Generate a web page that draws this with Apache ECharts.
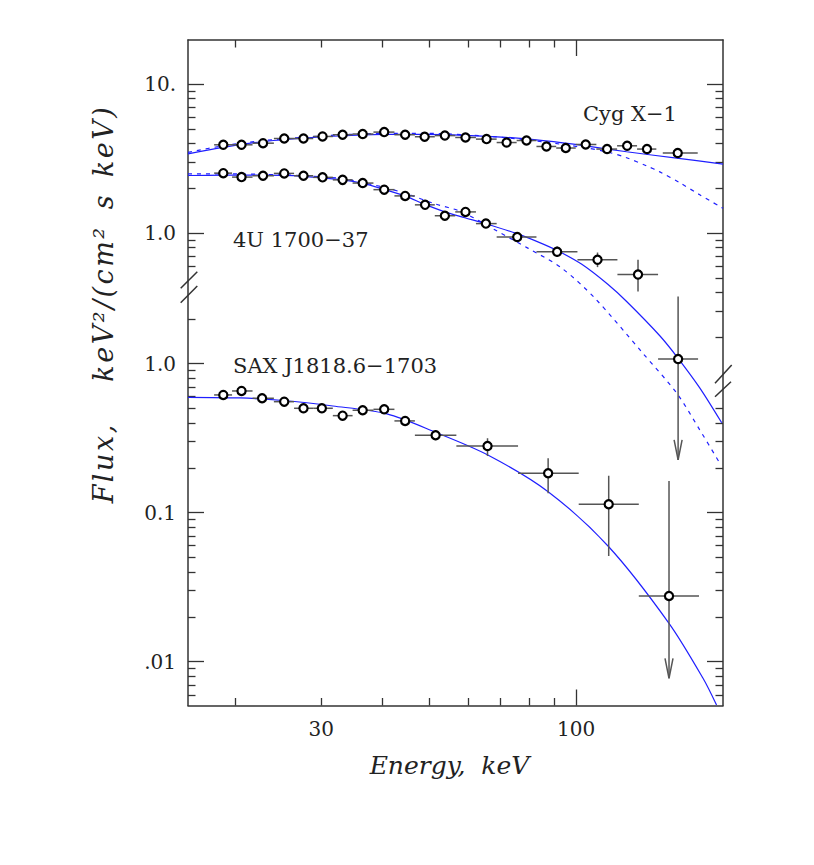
<!DOCTYPE html>
<html><head><meta charset="utf-8">
<script src="https://cdn.jsdelivr.net/npm/echarts@6/dist/echarts.min.js"></script>
<style>html,body{margin:0;padding:0;background:#fff}#c{width:814px;height:865px}</style>
</head><body><div id="c"></div>
<script>
// ================= DATA =================
// Cyg X-1 (upper panel scale)
const cygE   = [18.9,20.6,22.8,25.2,27.6,30.2,33.2,36.5,40.4,44.6,48.9,53.8,59.3,65.5,72.0,79.1,86.9,95.2,104.6,115.7,127.2,139.7,161.5];
const cygF   = [3.92,3.92,4.02,4.32,4.32,4.46,4.58,4.63,4.77,4.58,4.44,4.52,4.39,4.28,4.06,4.19,3.82,3.73,3.94,3.67,3.86,3.67,3.45];
const cygElo = [18.1,19.7,21.7,24.0,26.4,28.9,31.7,34.8,38.4,42.4,46.7,51.3,56.5,62.3,68.7,75.5,82.9,91.0,99.8,110.0,121.3,133.3,150.5];
const cygEhi = [19.7,21.7,24.0,26.4,28.9,31.7,34.8,38.4,42.4,46.7,51.3,56.5,62.3,68.7,75.5,82.9,91.0,99.8,110.0,121.3,133.3,146.0,177.5];
const cygFitE  = [16,18.88,22.69,27.53,33.24,40.35,48.72,59.12,71.76,86.64,104.6,126.9,160.7,200];
const cygFitF  = [3.41,3.77,4.11,4.34,4.51,4.61,4.61,4.54,4.40,4.17,3.86,3.52,3.19,2.91];
const cygFit2E = [16,18.88,22.69,27.53,33.24,40.35,48.72,59.12,71.76,86.64,104.6,115.5,126.9,139.5,148.4,163.1,179.2,200];
const cygFit2F = [3.49,3.86,4.17,4.40,4.58,4.68,4.68,4.58,4.37,4.08,3.74,3.52,3.21,2.83,2.58,2.18,1.81,1.47];

// 4U 1700-37 (upper panel scale)
const u4E   = [18.9,20.6,22.8,25.2,27.6,30.2,33.2,36.5,40.4,44.6,49.0,53.8,59.3,65.3,75.7,91.4,110.6,133.9,161.8];
const u4F   = [2.53,2.38,2.43,2.52,2.43,2.37,2.28,2.17,1.96,1.78,1.55,1.31,1.39,1.16,0.942,0.750,0.663,0.528,0.143];
const u4Elo = [18.1,19.7,21.7,24.0,26.4,28.9,31.7,34.8,38.4,42.4,46.7,51.3,56.5,62.3,68.7,82.9,100.6,121.5,147.2];
const u4Ehi = [19.7,21.7,24.0,26.4,28.9,31.7,34.8,38.4,42.4,46.7,51.3,56.5,62.3,68.7,82.9,100.6,121.5,147.2,177.8];
const u4VerrE  = [91.4,110.6,133.9];
const u4VerrLo = [0.692,0.592,0.406];
const u4VerrHi = [0.814,0.742,0.663];
const u4LimE   = [161.8];
const u4LimTop = [0.376];
const u4LimBot = [0.0301];
const u4FitE  = [16,18.88,22.69,27.53,33.24,36.53,40.35,44.55,48.96,53.80,59.12,65.29,75.58,83.0,91.25,102.7,116.1,126.9,148.4,161.5,179.2,198.8];
const u4FitF  = [2.44,2.45,2.45,2.41,2.28,2.16,1.97,1.78,1.56,1.39,1.27,1.157,0.994,0.882,0.768,0.618,0.454,0.348,0.205,0.1459,0.0917,0.0534];
const u4Fit2E = [16,18.88,22.69,27.53,33.24,40.35,44.55,51.32,58.29,68.1,79.6,93.4,109.2,136.9,160.7,179.2,197.0];
const u4Fit2F = [2.505,2.505,2.485,2.43,2.318,2.032,1.853,1.575,1.39,1.054,0.794,0.583,0.3667,0.1568,0.0845,0.0479,0.0286];

// SAX J1818.6-1703 (lower panel scale)
const saxE   = [18.9,20.6,22.7,25.2,27.6,30.1,33.2,36.5,40.4,44.6,51.5,65.8,87.6,116.6,155.0];
const saxF   = [0.617,0.656,0.586,0.556,0.502,0.502,0.448,0.487,0.494,0.413,0.331,0.280,0.184,0.1139,0.0276];
const saxElo = [18.1,19.7,21.7,24.0,26.4,28.9,31.7,34.8,38.4,42.4,46.7,56.8,76.0,101.2,134.4];
const saxEhi = [19.7,21.7,24.0,26.4,28.9,31.7,34.8,38.4,42.4,46.7,56.8,76.0,101.2,134.4,178.6];
const saxVerrE  = [51.5,65.8,87.6,116.6];
const saxVerrLo = [0.307,0.240,0.135,0.0512];
const saxVerrHi = [0.358,0.316,0.232,0.177];
const saxLimE   = [155.0];
const saxLimTop = [0.163];
const saxLimBot = [0.00774];
const saxFitE = [16,20.45,25.05,31.71,40.92,51.32,65.9,87.6,116.6,155.0,182.0,194.0];
const saxFitF = [0.595,0.589,0.566,0.520,0.460,0.348,0.244,0.1384,0.0591,0.0181,0.00774,0.00512];

// Axis ticks and labels
const xMinorTicks = [20,30,40,50,60,70,80,90];
const xMajorTicks = [100];
const xLabelVals  = [30,100];
const xLabelTexts = ['30','100'];
const upLeftMinor  = [9,8,7,6,5,4,3,2,0.9,0.8,0.7,0.6];
const upRightMinor = [9,8,7,6,5,4,3,2,0.9,0.8,0.7,0.6,0.5,0.4,0.3,0.2];
const upMajor      = [10,1];
const upLabelVals  = [10,1];
const upLabelTexts = ['10.','1.0'];
const loLeftMinor  = [2,0.9,0.8,0.7,0.6,0.5,0.4,0.3,0.2,0.09,0.08,0.07,0.06,0.05,0.04,0.03,0.02,0.009,0.008,0.007,0.006];
const loRightMinor = [0.5,0.4,0.3,0.2,0.09,0.08,0.07,0.06,0.05,0.04,0.03,0.02,0.009,0.008,0.007,0.006];
const loLeftMajor  = [1,0.1,0.01];
const loRightMajor = [0.1,0.01];
const loLabelVals  = [1,0.1,0.01];
const loLabelTexts = ['1.0','0.1','.01'];

// Axis ranges
const X_MIN = 16, X_MAX = 200;
const UP_MIN = 6.765e-4, UP_MAX = 19.80;
const LO_MIN = 0.005082, LO_MAX = 148.7;

// ================= CHART =================
const AX = '#333', ERR = '#555', BLUE = '#1f1fff';
const SERIF = '"DejaVu Serif", serif';
const zip2 = (a, b) => a.map((v, i) => [v, b[i]]);
const zip3 = (a, b, c) => a.map((v, i) => [v, b[i], c[i]]);
function lookup(vals, texts) {
  return v => {
    for (let i = 0; i < vals.length; i++)
      if (Math.abs(Math.log10(v) - Math.log10(vals[i])) < 1e-6) return texts[i];
    return '';
  };
}
const GRID = {left: 188, top: 40, right: 91, bottom: 159.5, containLabel: false, outerBoundsMode: 'none'};
function axis(extra) {
  return Object.assign({
    type: 'log', logBase: 10, silent: true,
    axisLine: {show: false}, axisTick: {show: false}, axisLabel: {show: false},
    splitLine: {show: false}, minorTick: {show: false}, minorSplitLine: {show: false}
  }, extra);
}
function tk(vals, len) {
  return {show: true, inside: true, length: len, customValues: vals, lineStyle: {color: AX, width: 1.3}};
}
const LINE = {show: true, onZero: false, lineStyle: {color: AX, width: 1.5}};
const X = (g, pos, extra) => axis(Object.assign({gridIndex: g, position: pos, min: X_MIN, max: X_MAX}, extra));
const YU = (g, pos, extra) => axis(Object.assign({gridIndex: g, position: pos, min: UP_MIN, max: UP_MAX}, extra));
const YL = (g, pos, extra) => axis(Object.assign({gridIndex: g, position: pos, min: LO_MIN, max: LO_MAX}, extra));
const labelStyle = {fontFamily: SERIF, fontSize: 20, color: '#222'};

const xAxis = [
  X(0, 'bottom', {axisLine: LINE, axisTick: tk(xMinorTicks, 7.5),
    axisLabel: Object.assign({show: true, customValues: xLabelVals, margin: 13, formatter: lookup(xLabelVals, xLabelTexts)}, labelStyle)}),
  X(0, 'top', {axisLine: LINE, axisTick: tk(xMinorTicks, 7.5)}),
  X(1, 'bottom', {axisTick: tk(xMajorTicks, 16)}),
  X(1, 'top', {axisTick: tk(xMajorTicks, 16)}),
  X(2, 'bottom', {show: false}), X(2, 'top', {show: false}),
  X(3, 'bottom', {show: false}), X(3, 'top', {show: false})
];
const yAxis = [
  YU(0, 'left', {axisLine: LINE, axisTick: tk(upLeftMinor, 7.5)}),
  YL(0, 'right', {axisLine: LINE, axisTick: tk(loRightMinor, 7.5)}),
  YU(1, 'left', {axisTick: tk(upMajor, 16),
    axisLabel: Object.assign({show: true, customValues: upLabelVals, margin: 12, formatter: lookup(upLabelVals, upLabelTexts)}, labelStyle)}),
  YL(1, 'right', {axisTick: tk(loRightMajor, 16)}),
  YL(2, 'left', {axisTick: tk(loLeftMinor, 7.5)}),
  YU(2, 'right', {axisTick: tk(upRightMinor, 7.5)}),
  YL(3, 'left', {axisTick: tk(loLeftMajor, 16),
    axisLabel: Object.assign({show: true, customValues: loLabelVals, margin: 12, formatter: lookup(loLabelVals, loLabelTexts)}, labelStyle)}),
  YU(3, 'right', {axisTick: tk(upMajor, 16)})
];

function hbar(params, api) {
  const a = api.coord([api.value(0), api.value(2)]);
  const b = api.coord([api.value(1), api.value(2)]);
  return {type: 'line', shape: {x1: a[0], y1: a[1], x2: b[0], y2: b[1]}, style: {stroke: ERR, lineWidth: 1.5}};
}
function vbar(params, api) {
  const a = api.coord([api.value(0), api.value(1)]);
  const b = api.coord([api.value(0), api.value(2)]);
  return {type: 'line', shape: {x1: a[0], y1: a[1], x2: b[0], y2: b[1]}, style: {stroke: ERR, lineWidth: 1.5}};
}
function arrow(params, api) {
  const a = api.coord([api.value(0), api.value(1)]);
  const b = api.coord([api.value(0), api.value(2)]);
  return {type: 'group', children: [
    {type: 'line', shape: {x1: a[0], y1: a[1], x2: b[0], y2: b[1]}, style: {stroke: ERR, lineWidth: 1.5}},
    {type: 'polyline', shape: {points: [[b[0] - 4, b[1] - 20], [b[0], b[1]], [b[0] + 4, b[1] - 20]]},
     style: {stroke: ERR, fill: 'none', lineWidth: 1.5}}
  ]};
}
function fit(name, E, F, yi, dashed) {
  return {type: 'line', name, xAxisIndex: 0, yAxisIndex: yi, data: zip2(E, F), smooth: 0.3,
    showSymbol: false, symbol: 'none', clip: true, silent: true, z: 2,
    lineStyle: {color: BLUE, width: 1.2, type: dashed ? [4, 5] : 'solid'}};
}
function pts(name, E, F, yi) {
  return {type: 'scatter', name, xAxisIndex: 0, yAxisIndex: yi, data: zip2(E, F), symbol: 'circle',
    symbolSize: 8.2, silent: true, z: 5, itemStyle: {color: '#fff', borderColor: '#000', borderWidth: 2.2, opacity: 1}};
}
function cust(name, data, yi, fn, enc) {
  return {type: 'custom', name, xAxisIndex: 0, yAxisIndex: yi, data, renderItem: fn, silent: true, z: 3, encode: enc};
}
const HENC = {x: [0, 1], y: 2}, VENC = {x: 0, y: [1, 2]};

const series = [
  fit('Cyg fit', cygFitE, cygFitF, 0, false),
  fit('Cyg fit 2', cygFit2E, cygFit2F, 0, true),
  fit('4U fit', u4FitE, u4FitF, 0, false),
  fit('4U fit 2', u4Fit2E, u4Fit2F, 0, true),
  fit('SAX fit', saxFitE, saxFitF, 1, false),
  cust('Cyg xerr', zip3(cygElo, cygEhi, cygF), 0, hbar, HENC),
  cust('4U xerr', zip3(u4Elo, u4Ehi, u4F), 0, hbar, HENC),
  cust('4U yerr', zip3(u4VerrE, u4VerrLo, u4VerrHi), 0, vbar, VENC),
  cust('4U limit', zip3(u4LimE, u4LimTop, u4LimBot), 0, arrow, VENC),
  cust('SAX xerr', zip3(saxElo, saxEhi, saxF), 1, hbar, HENC),
  cust('SAX yerr', zip3(saxVerrE, saxVerrLo, saxVerrHi), 1, vbar, VENC),
  cust('SAX limit', zip3(saxLimE, saxLimTop, saxLimBot), 1, arrow, VENC),
  pts('Cyg X-1', cygE, cygF, 0),
  pts('4U 1700-37', u4E, u4F, 0),
  pts('SAX J1818.6-1703', saxE, saxF, 1)
];

const txt = (text, x, y, size, extra) => ({
  type: 'text', x, y, silent: true, z: 10,
  style: Object.assign({text, font: size + 'px ' + SERIF, fill: '#222',
    align: 'left', verticalAlign: 'middle', textAlign: 'left', textVerticalAlign: 'middle'}, extra || {})
});
const slash = (x1, y1, x2, y2) => ({type: 'line', silent: true, z: 10,
  shape: {x1, y1, x2, y2}, style: {stroke: AX, lineWidth: 1.5}});

const Y_TITLE = 'Flux,\u2003\u00a0keV\u00b2/(cm\u00b2\u2002s\u2002keV)';
const yTitle = txt(Y_TITLE, 103, 304, 27,
  {align: 'center', textAlign: 'center', font: 'italic 27px ' + SERIF});
yTitle.rotation = Math.PI / 2;

const graphic = [
  txt('Cyg X\u22121', 583, 114, 21),
  txt('4U 1700\u221237', 233, 240, 21),
  txt('SAX J1818.6\u22121703', 233, 365.5, 21),
  txt('Energy,\u00a0 keV', 449.5, 765, 25, {align: 'center', textAlign: 'center', font: 'italic 25px ' + SERIF}),
  yTitle,
  slash(180.7, 288.3, 197.3, 271.7), slash(180.7, 302.7, 197.3, 286),
  slash(715, 383.3, 731.7, 365), slash(715, 396.7, 731, 381.7)
];

const chart = echarts.init(document.getElementById('c'), null, {renderer: 'svg', width: 814, height: 865});
chart.setOption({
  animation: false,
  backgroundColor: '#fff',
  textStyle: {fontFamily: SERIF},
  grid: [GRID, GRID, GRID, GRID].map(g => Object.assign({}, g)),
  xAxis, yAxis, series, graphic
});
// widen the letter spacing of the rotated axis title, as in the original
function spaceTitle() {
  document.querySelectorAll('#c text').forEach(t => {
    if (t.textContent === Y_TITLE) t.style.letterSpacing = '2.5px';
  });
}
spaceTitle();
chart.on('finished', spaceTitle);
setTimeout(spaceTitle, 0);
</script></body></html>
